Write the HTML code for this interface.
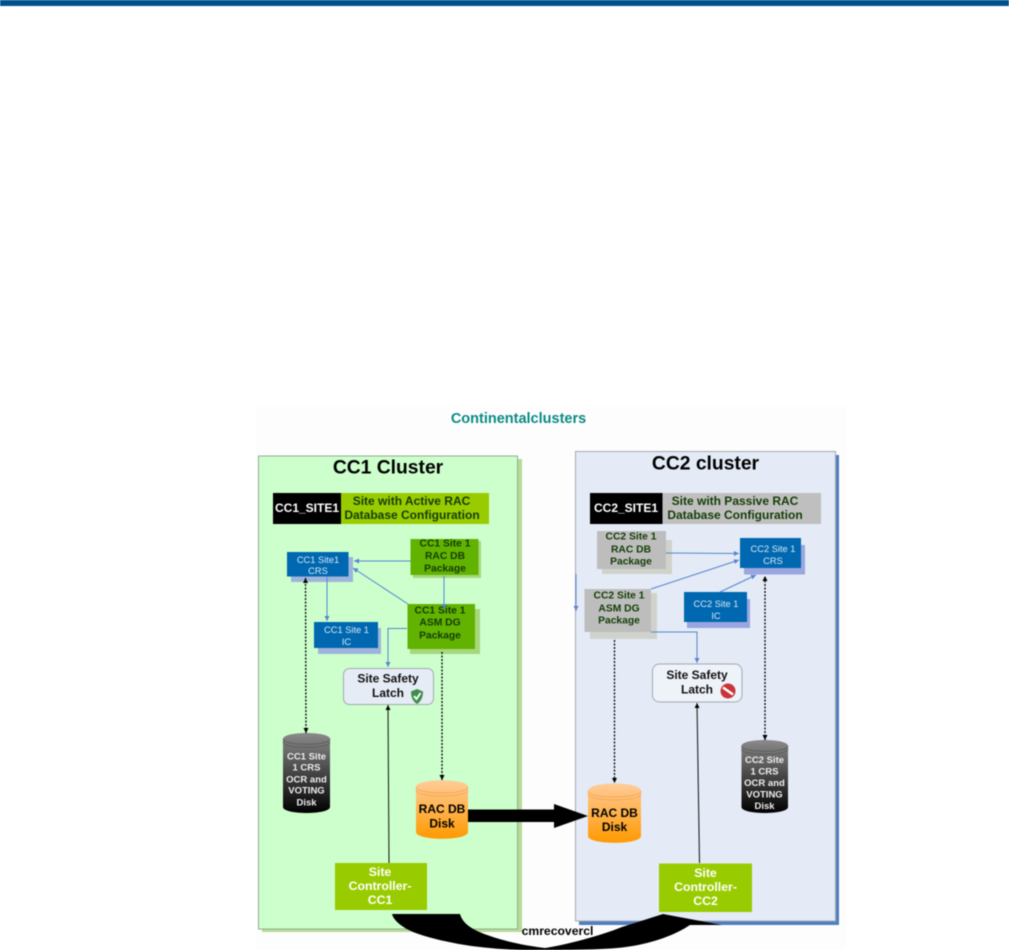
<!DOCTYPE html>
<html><head><meta charset="utf-8"><style>
html,body{margin:0;padding:0;background:#fff;width:1009px;height:950px;overflow:hidden}
svg{display:block;filter:blur(.5px)}
text{font-family:"Liberation Sans",Arial,sans-serif;font-weight:bold;text-anchor:middle;dominant-baseline:central}
.p{font-size:10.3px;fill:#143c06}
.b{font-size:12px;fill:#111}
.s{font-size:12px;fill:#143c06}
.w{font-size:12.3px;fill:#fff}
.l{font-size:9.3px;fill:#d5e8f5;font-weight:normal}
.g{font-size:9.5px;fill:#eee}
.h{font-size:19.3px;fill:#000}
.bl{stroke:#5585d0;stroke-width:1;fill:none;marker-end:url(#ab)}
.dt{stroke:#000;stroke-width:1.3;stroke-dasharray:2 1.5;fill:none;marker-end:url(#ak)}
.sl{stroke:#111;stroke-width:1;fill:none;marker-end:url(#ak)}
</style></head><body>
<svg width="1009" height="950" viewBox="0 0 1009 950" xmlns="http://www.w3.org/2000/svg">
<defs>
<marker id="ab" markerWidth="6" markerHeight="6" refX="5" refY="2.5" orient="auto" markerUnits="userSpaceOnUse"><path d="M0 0L5 2.5L0 5Z" fill="#5585d0"/></marker>
<marker id="ak" markerWidth="6" markerHeight="6" refX="5" refY="2.5" orient="auto" markerUnits="userSpaceOnUse"><path d="M0 0L5 2.5L0 5Z" fill="#000"/></marker>
<marker id="aks" markerWidth="6" markerHeight="6" refX="1" refY="2.5" orient="auto" markerUnits="userSpaceOnUse"><path d="M6 0L1 2.5L6 5Z" fill="#000"/></marker>
<linearGradient id="gg" x1="0" y1="0" x2="0" y2="1"><stop offset="0" stop-color="#8a8a8a"/><stop offset="1" stop-color="#000"/></linearGradient>
<linearGradient id="go" x1="0" y1="0" x2="0" y2="1"><stop offset="0" stop-color="#ffcc99"/><stop offset="1" stop-color="#ff9900"/></linearGradient>
</defs>

<rect x="0" y="0" width="1009" height="6" fill="#00528f"/>
<rect x="256" y="406" width="590" height="544" fill="#fdfdfd"/>
<text x="518.5" y="419" style="font-size:14.5px;fill:#0a8a84">Continentalclusters</text>

<!-- CC1 panel -->
<rect x="262" y="459" width="260" height="473" fill="#b5dc96"/>
<rect x="258.5" y="456" width="259" height="473" fill="#ccffcc" stroke="#94ad94"/>
<text class="h" x="388" y="468">CC1 Cluster</text>
<rect x="273" y="493" width="68" height="31" fill="#000"/>
<rect x="341" y="493" width="148" height="31" fill="#99cc00"/>
<text x="307" y="508" style="font-size:12px;fill:#fff">CC1_SITE1</text>
<text class="s" x="411.5" y="501">Site with Active RAC</text>
<text class="s" x="412" y="515">Database Configuration</text>

<!-- CC2 panel -->
<rect x="579" y="455" width="260" height="470" fill="#4f7fc0"/>
<rect x="575.5" y="451.5" width="260" height="469.5" fill="#e4ebf6" stroke="#a5a8b0"/>
<text class="h" x="705.5" y="464">CC2 cluster</text>
<rect x="590" y="493" width="72.5" height="31" fill="#000"/>
<rect x="662.5" y="493" width="158.5" height="31" fill="#bfbfbf"/>
<text x="626" y="508" style="font-size:12px;fill:#fff">CC2_SITE1</text>
<text class="s" x="735" y="501">Site with Passive RAC</text>
<text class="s" x="735" y="515">Database Configuration</text>

<!-- CC1 boxes -->
<rect x="291" y="557" width="62" height="25" fill="#9fb4dc"/>
<rect x="287" y="552" width="61.5" height="24.5" fill="#0068b0"/>
<text class="l" x="318" y="560">CC1 Site1</text>
<text class="l" x="318" y="571">CRS</text>
<rect x="318" y="628" width="63" height="26" fill="#9fb4dc"/>
<rect x="314" y="622" width="64" height="26" fill="#0068b0"/>
<text class="l" x="346.5" y="630">CC1 Site 1</text>
<text class="l" x="346.5" y="642">IC</text>
<rect x="413" y="541" width="68" height="37" fill="#a6d77c"/>
<rect x="410.5" y="539" width="68" height="36" fill="#62b300"/>
<text class="p" x="445" y="544">CC1 Site 1</text>
<text class="p" x="445" y="556.5">RAC DB</text>
<text class="p" x="445" y="569">Package</text>
<rect x="410" y="609" width="70" height="45" fill="#a6d77c"/>
<rect x="407.5" y="604" width="67.5" height="45" fill="#62b300"/>
<text class="p" x="440" y="611">CC1 Site 1</text>
<text class="p" x="440" y="623">ASM DG</text>
<text class="p" x="440" y="636">Package</text>
<rect x="343.5" y="668.5" width="90" height="36" rx="6" fill="#e6ecf6" stroke="#a5a8b0"/>
<text class="b" x="388" y="678.5">Site Safety</text>
<text class="b" x="388" y="693">Latch</text>
<path d="M417 689l6 2.5c0 6-2 10-6 12.500c-4-2.500-6-6.500-6-12.500z" fill="#3f8f4a"/>
<path d="M414 696l2.500 3l4-6" stroke="#fff" stroke-width="1.800" fill="none"/>

<!-- CC2 boxes -->
<rect x="602" y="540" width="70" height="34" fill="#d0d2cc"/>
<rect x="597" y="531" width="69" height="38" fill="#bdbdbd"/>
<text class="p" x="631" y="537">CC2 Site 1</text>
<text class="p" x="631" y="550">RAC DB</text>
<text class="p" x="631" y="562">Package</text>
<rect x="590" y="593" width="67" height="46" fill="#d0d2cc"/>
<rect x="584.500" y="589" width="66.500" height="43" fill="#bdbdbd"/>
<text class="p" x="619" y="596">CC2 Site 1</text>
<text class="p" x="619" y="609">ASM DG</text>
<text class="p" x="619" y="621">Package</text>
<rect x="744" y="545" width="61" height="29.500" fill="#99a6e0"/>
<rect x="740" y="538" width="61" height="30" fill="#0068b0"/>
<text class="l" x="773" y="549">CC2 Site 1</text>
<text class="l" x="773" y="561">CRS</text>
<rect x="687" y="599" width="63" height="29" fill="#99a6e0"/>
<rect x="684" y="592" width="63" height="30" fill="#0068b0"/>
<text class="l" x="716" y="604">CC2 Site 1</text>
<text class="l" x="716" y="616">IC</text>
<rect x="652.500" y="664" width="89.500" height="38" rx="7" fill="#eef2f9" stroke="#a5a8b0"/>
<text class="b" x="697" y="675">Site Safety</text>
<text class="b" x="697" y="689.500">Latch</text>
<circle cx="728" cy="691" r="7.500" fill="#c8343a"/>
<path d="M723 687.500L733 694.500" stroke="#fff" stroke-width="2.500"/>

<!-- connectors CC1 -->
<path class="bl" d="M411 561H354"/>
<path class="bl" d="M408 604L353 568"/>
<path class="bl" d="M444 576V609"/>
<path class="bl" d="M327 577V621"/>
<path class="bl" d="M407 628.500H388V667"/>
<path class="dt" d="M306 733L305.500 578" marker-start="url(#aks)"/>
<path class="dt" d="M442 652V780"/>
<path class="sl" d="M389 863L388 705"/>
<!-- connectors CC2 -->
<path class="bl" d="M666 553L739 553.500"/>
<path class="bl" d="M651 589L739 560"/>
<path class="bl" d="M720 592L756 575"/>
<path class="bl" d="M651 632H697V663"/>
<path class="bl" d="M576 574V611"/>
<path class="dt" d="M614.500 640V783"/>
<path class="dt" d="M765 740V576" marker-start="url(#aks)"/>
<path class="sl" d="M699.500 863L697 703"/>

<!-- cylinders -->
<path d="M283 739C283 731 330 731 330 739V807C330 815 283 815 283 807Z" fill="url(#gg)"/>
<path d="M283 739C283 746 330 746 330 739M283 742C283 749 330 749 330 742" stroke="#555" stroke-width=".7" fill="none"/>
<text class="g" x="306.500" y="757">CC1 Site</text><text class="g" x="306.500" y="768">1 CRS</text><text class="g" x="306.500" y="780">OCR and</text><text class="g" x="306.500" y="791">VOTING</text><text class="g" x="306.500" y="803">Disk</text>

<path d="M741.500 746C741.500 738 788 738 788 746V807C788 815 741.500 815 741.500 807Z" fill="url(#gg)"/>
<path d="M741.500 746C741.500 753 788 753 788 746M741.500 749C741.500 756 788 756 788 749" stroke="#555" stroke-width=".7" fill="none"/>
<text class="g" x="764.500" y="760.500">CC2 Site</text><text class="g" x="764.500" y="772">1 CRS</text><text class="g" x="764.500" y="783.500">OCR and</text><text class="g" x="764.500" y="795">VOTING</text><text class="g" x="764.500" y="806.500">Disk</text>

<path d="M416 787C416 778 468 778 468 787V832C468 841 416 841 416 832Z" fill="url(#go)"/>
<path d="M416 787C416 795 468 795 468 787M416 790C416 798 468 798 468 790" stroke="#f2a050" stroke-width=".7" fill="none"/>
<text class="b" x="442" y="809" style="fill:#000">RAC DB</text><text class="b" x="442" y="823.500" style="fill:#000">Disk</text>

<path d="M588 791C588 781 641 781 641 791V836C641 845 588 845 588 836Z" fill="url(#go)"/>
<path d="M588 791C588 799 641 799 641 791M588 794C588 802 641 802 641 794" stroke="#f2a050" stroke-width=".7" fill="none"/>

<!-- big arrow -->
<path d="M468 809.500H554V804L588 816L554 828V822H468Z" fill="#000"/>
<text class="b" x="614.500" y="813" style="fill:#000">RAC DB</text><text class="b" x="614.500" y="827" style="fill:#000">Disk</text>

<!-- controllers -->
<rect x="335" y="863" width="92" height="47" fill="#99cc00"/>
<text class="w" x="380" y="872">Site</text><text class="w" x="380" y="886">Controller-</text><text class="w" x="380" y="900">CC1</text>
<rect x="659" y="863.500" width="93" height="48.500" fill="#99cc00"/>
<text class="w" x="705.500" y="873">Site</text><text class="w" x="705.500" y="887">Controller-</text><text class="w" x="705.500" y="901">CC2</text>

<!-- cmrecovercl curved arrow -->
<path d="M392 914H460C463 925 475 931 490 936C510 943 530 946 545 948C565 945 600 936 622 927L663 914L722 925H690C675 935 650 945 617 948C595 950 560 950 530 950C490 950 445 944 413 932C402 927 394 921 392 914Z" fill="#000"/>
<text x="557.500" y="931" style="font-size:12.200px;fill:#000">cmrecovercl</text>
</svg>
</body></html>
